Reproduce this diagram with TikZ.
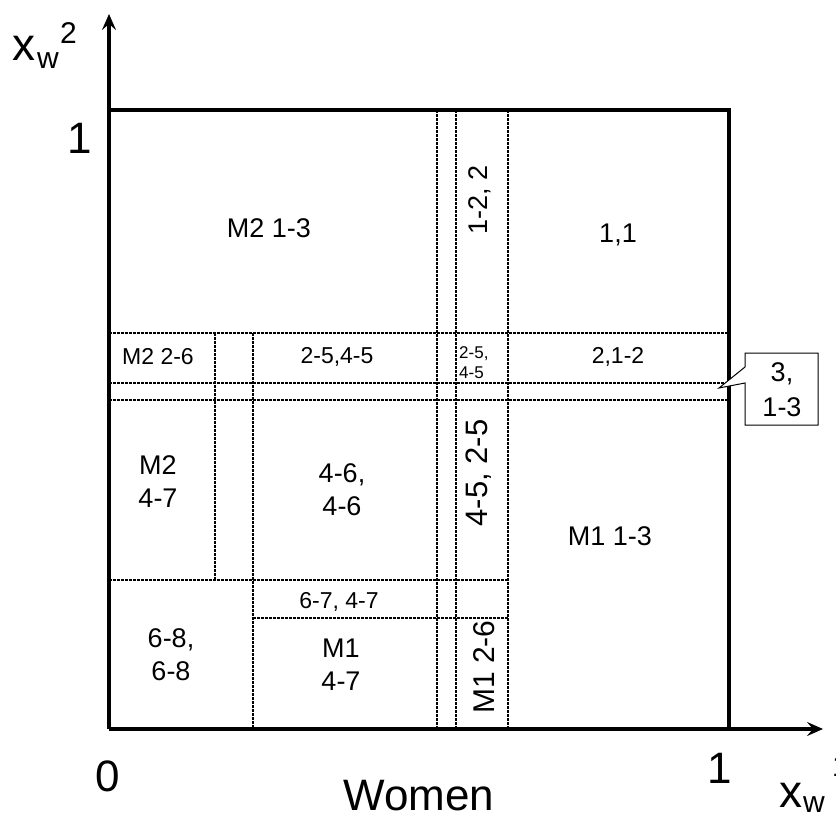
\documentclass[tikz,border=0pt]{standalone}
\usepackage{fontspec}
\setmainfont{Liberation Sans}
\usetikzlibrary{arrows.meta}
\begin{document}
\begin{tikzpicture}[x=1pt,y=-1pt,
  thickline/.style={line width=3.5pt},
  axisline/.style={line width=3.5pt,-{Stealth[length=16pt,width=14pt,inset=6pt]}},
  dotline/.style={line width=2pt, dash pattern=on 2.5pt off 1.5pt},
  lab/.style={font=\fontsize{27}{33}\selectfont, inner sep=0pt, align=center},
  labm/.style={font=\fontsize{23}{27}\selectfont, inner sep=0pt, align=center},
  labs/.style={font=\fontsize{17}{20}\selectfont, inner sep=0pt, align=left},
  big/.style={font=\fontsize{44}{50}\selectfont, inner sep=0pt},
  axx/.style={font=\fontsize{46}{50}\selectfont, inner sep=0pt, anchor=base west},
  axs/.style={font=\fontsize{30}{34}\selectfont, inner sep=0pt, anchor=base west},
]
\useasboundingbox (0,0) rectangle (836,819);

% corners of the unit square
\coordinate (O) at (109,729);
\coordinate (TL) at (109,110);
\coordinate (TR) at (729,110);
\coordinate (BR) at (729,729);
\coordinate (YT) at (109,14);
\coordinate (XT) at (823,729);

% dotted partition lines
\draw[dotline] (109,333) -- (729,333);
\draw[dotline] (109,383) -- (729,383);
\draw[dotline] (109,400) -- (729,400);
\draw[dotline] (109,580) -- (508,580);
\draw[dotline] (253,618) -- (508,618);
\draw[dotline] (215,333) -- (215,580);
\draw[dotline] (253,333) -- (253,729);
\draw[dotline] (437,110) -- (437,729);
\draw[dotline] (456,110) -- (456,729);
\draw[dotline] (508,110) -- (508,729);

% square and axes
\draw[thickline] (TL) -- (TR) -- (BR);
\draw[axisline] (O) -- (YT);
\draw[axisline] (O) -- (XT);

% region labels
\node[lab] (m2a) at (269,228) {M2 1-3};
\node[lab] (r11) at (618,235) {1,1};
\node[lab,rotate=90] (r122) at (480,200) {1-2, 2};
\node[labm] (m226) at (158,357) {M2 2-6};
\node[labm] (r2545) at (337,357) {2-5,4-5};
\node[labs,anchor=west] (r2545b) at (459,363) {2-5,\\4-5};
\node[labm] (r212) at (618,357) {2,1-2};
\node[lab] (m247) at (158,482) {M2\\4-7};
\node[lab] (r4646) at (342,490) {4-6,\\4-6};
\node[lab,font=\fontsize{31}{36}\selectfont,rotate=90] (r4525) at (479,473) {4-5, 2-5};
\node[lab] (m1a) at (610,536) {M1 1-3};
\node[labm] (r6747) at (339,602) {6-7, 4-7};
\node[lab] (r6868) at (171,655) {6-8,\\6-8};
\node[lab] (m147) at (341,665) {M1\\4-7};
\node[lab,font=\fontsize{30}{36}\selectfont,rotate=90] (m126) at (484,667) {M1 2-6};

% callout
\coordinate (ctip) at (719,388);
\draw[line width=1pt, fill=white] (745,353) -- (818,353) -- (818,425) -- (745,425) -- (745,383) -- (ctip) -- (745,367) -- cycle;
\node[lab,font=\fontsize{27}{35}\selectfont] (c313) at (782,390) {3,\\1-3};

% axis labels
\node[big] (one_y) at (80,138) {1};
\node[big] (zero) at (108,776) {0};
\node[big] (one_x) at (720,768) {1};
\node[big] (women) at (419,796) {Women};
\node[axx] (xb) at (779,807) {x};
\node[axs] (wb) at (803,812) {w};
\node[axs] (sb) at (832,776) {1};
\node[axx] (xt) at (12,60) {x};
\node[axs] (wt) at (37,68) {w};
\node[axs] (st) at (60,43) {2};
\end{tikzpicture}
\end{document}
